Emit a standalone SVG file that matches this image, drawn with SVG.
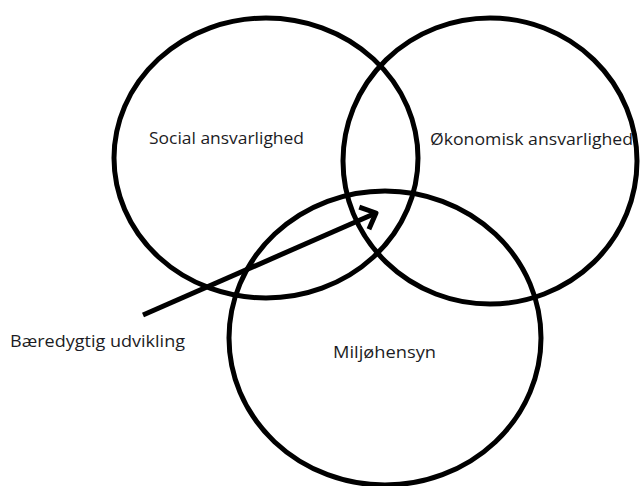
<svg xmlns="http://www.w3.org/2000/svg" width="640" height="486" viewBox="0 0 640 486">
<style>
.c{fill:none;stroke:#000;stroke-width:5}
.t{font-family:"Open Sans","Liberation Sans",sans-serif;font-size:16px;fill:#1c1c24}
.a{fill:none;stroke:#000;stroke-width:5;stroke-linecap:butt}
</style>
<defs>
<marker id="arr" markerUnits="userSpaceOnUse" markerWidth="30" markerHeight="30" refX="18" refY="15" orient="auto" viewBox="0 0 30 30">
<polyline points="5,3 18,15 5,27" fill="none" stroke="#000" stroke-width="5" stroke-linejoin="round"/>
</marker>
</defs>
<rect width="640" height="486" fill="#fff"/>
<g id="social"><ellipse class="c" cx="266" cy="158" rx="152" ry="140"/><text class="t" x="149" y="144" textLength="155" lengthAdjust="spacingAndGlyphs">Social ansvarlighed</text></g>
<g id="okonomisk"><ellipse class="c" cx="490" cy="161" rx="147" ry="143"/><text class="t" x="430" y="145" textLength="203" lengthAdjust="spacingAndGlyphs">Økonomisk ansvarlighed</text></g>
<g id="miljo"><ellipse class="c" cx="385" cy="338" rx="156" ry="147"/><text class="t" x="333" y="358" textLength="103" lengthAdjust="spacingAndGlyphs">Miljøhensyn</text></g>
<g id="baeredygtig"><text class="t" x="10" y="347" textLength="175" lengthAdjust="spacingAndGlyphs">Bæredygtig udvikling</text></g>
<g id="connectors"><line class="a" x1="143" y1="315" x2="376" y2="213" marker-end="url(#arr)"/></g>
</svg>
